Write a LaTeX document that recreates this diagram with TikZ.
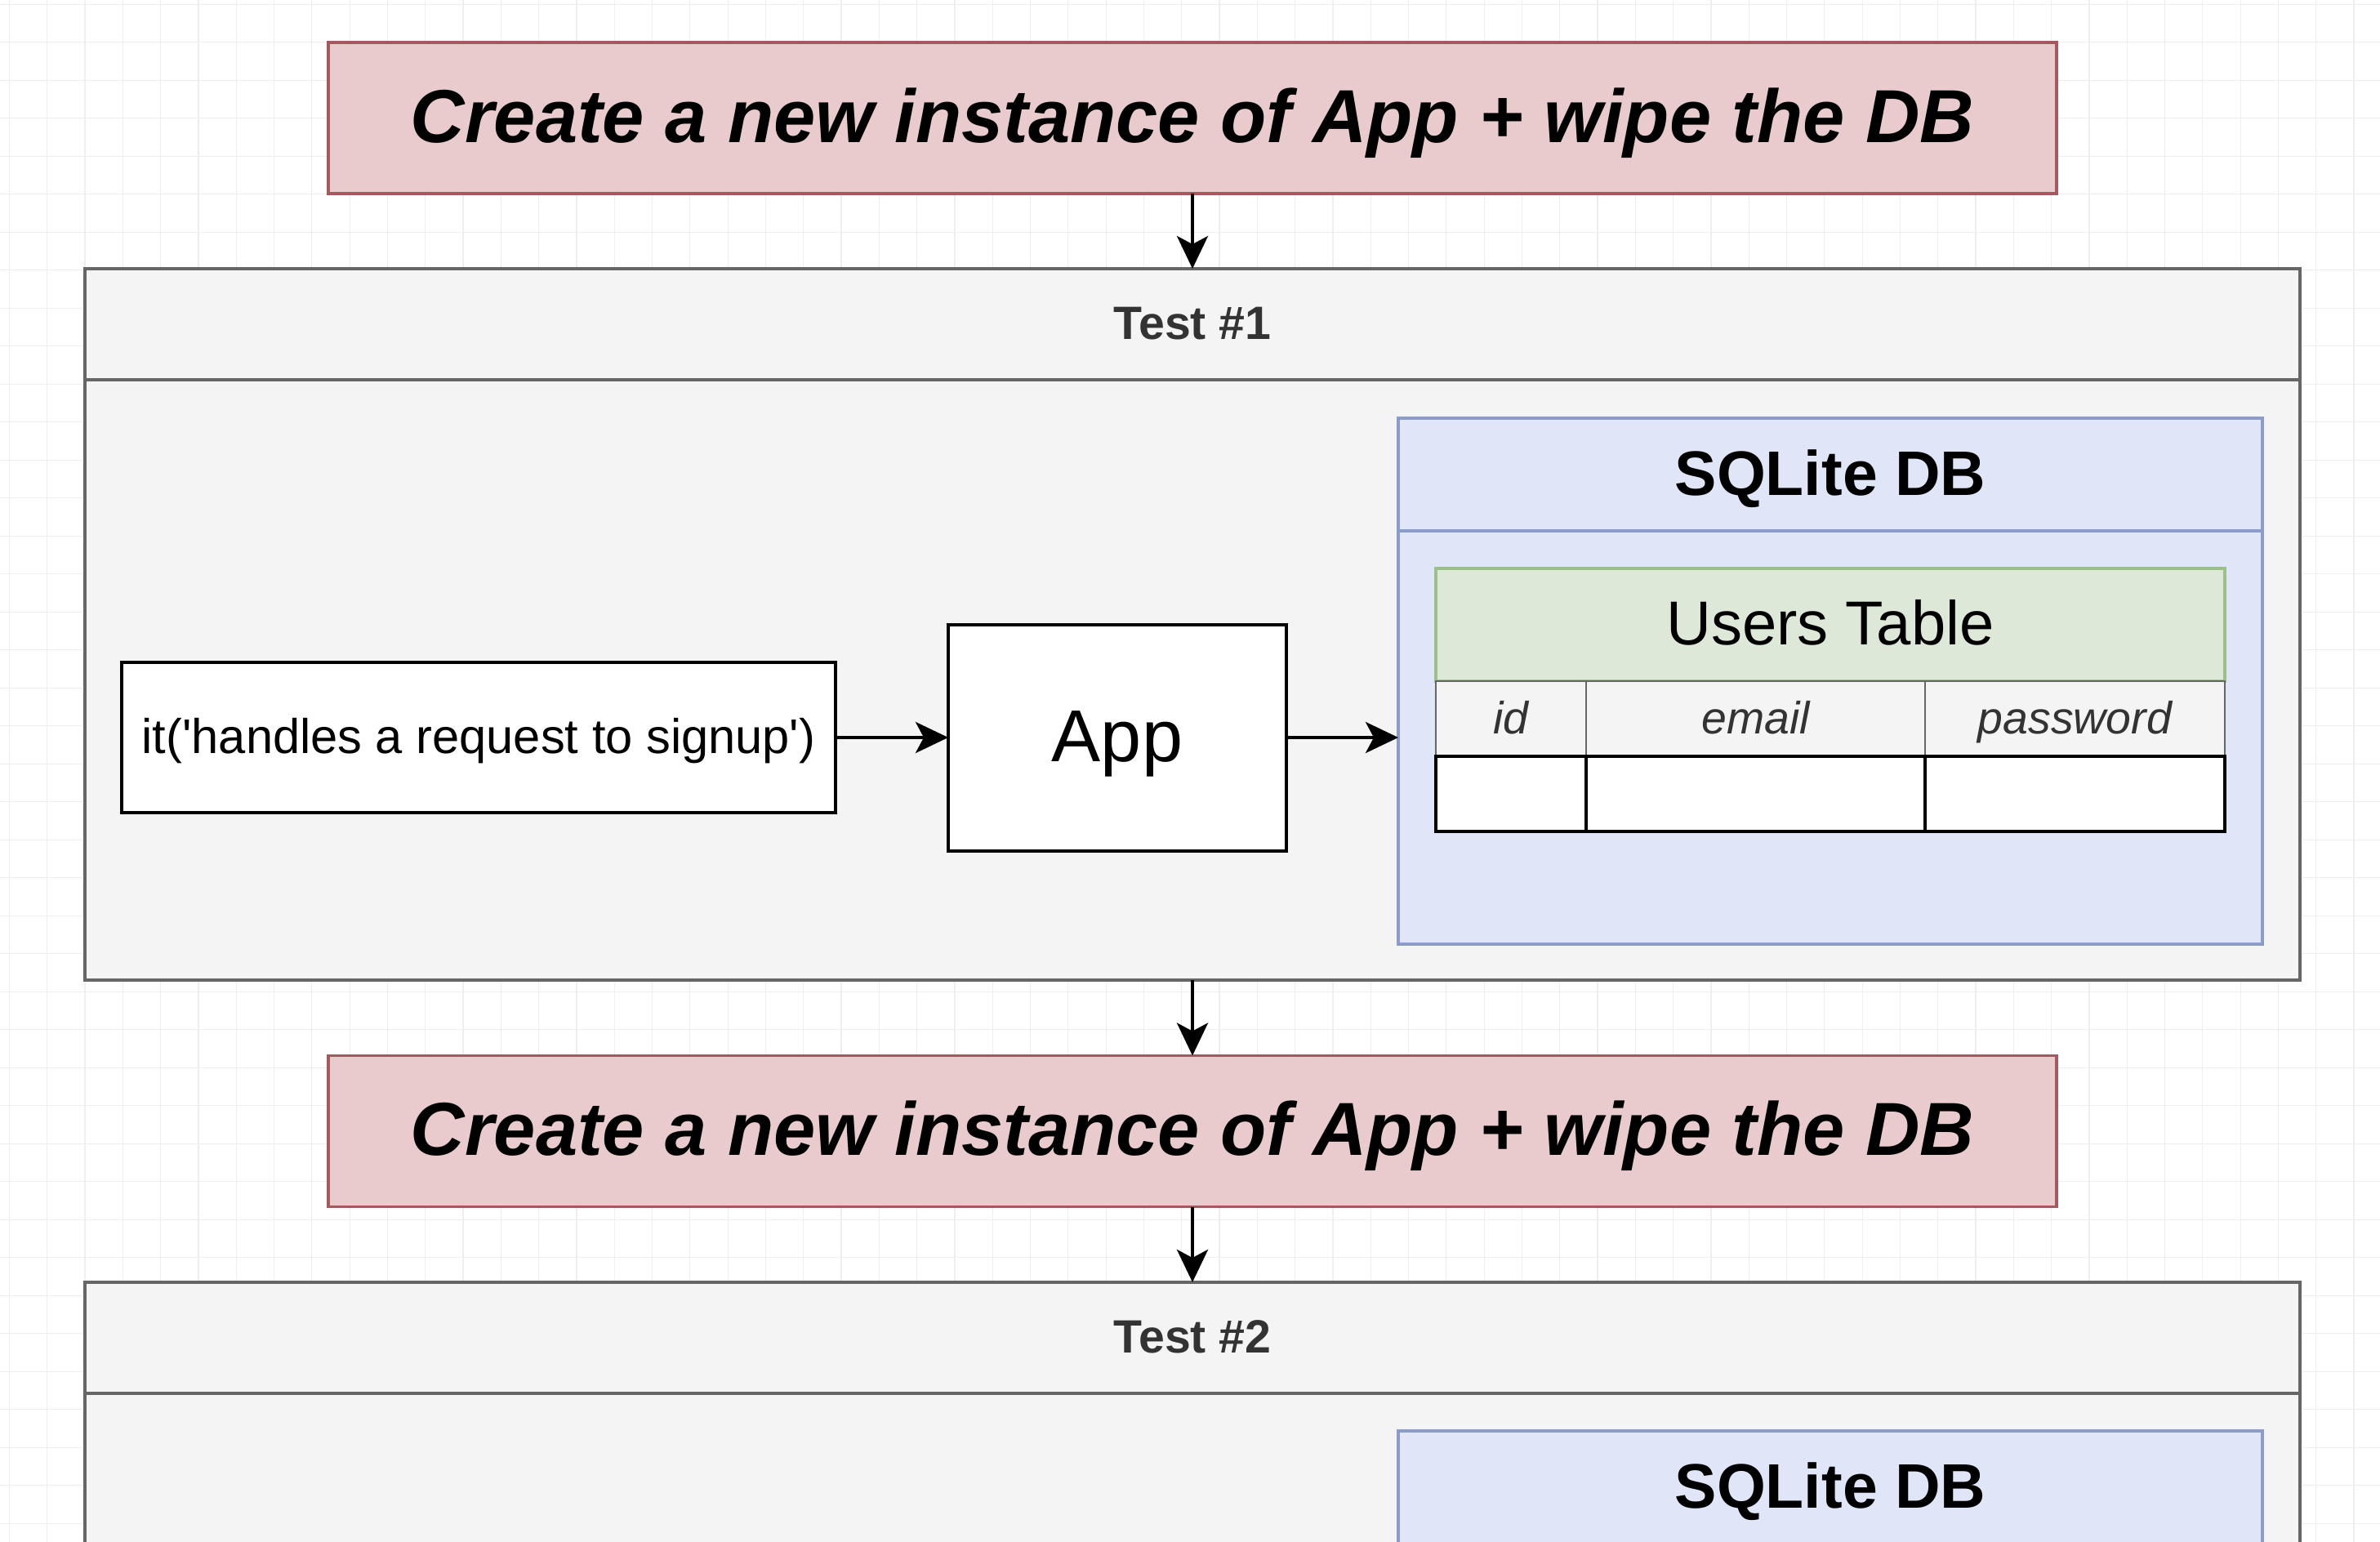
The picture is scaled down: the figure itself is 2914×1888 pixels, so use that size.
\documentclass[tikz,border=0pt]{standalone}
\usepackage{fontspec}
\setmainfont{Liberation Sans}
\usetikzlibrary{arrows.meta,positioning}
\definecolor{wipefill}{HTML}{E9CBCD}
\definecolor{wipeline}{HTML}{A5585E}
\definecolor{testfill}{HTML}{F4F4F4}
\definecolor{testline}{HTML}{666666}
\definecolor{dbfill}{HTML}{E0E6F7}
\definecolor{dbline}{HTML}{8C9CC8}
\definecolor{tblfill}{HTML}{DDE8D8}
\definecolor{tblline}{HTML}{9CC088}
\definecolor{gridgray}{HTML}{EEEEEE}
\definecolor{txtgray}{HTML}{333333}
\tikzset{
  box/.style={draw, inner sep=0pt, outer sep=0pt, anchor=center},
  wipebox/.style={box, fill=wipefill, draw=wipeline, line width=1.6pt,
    minimum width=1058pt, minimum height=92.5pt, text height=34.5pt, text depth=4.6pt,
    font=\fontsize{46}{55}\selectfont\bfseries\itshape},
  testbox/.style={box, fill=testfill, draw=testline, line width=1.6pt, minimum width=1356pt},
  testhead/.style={testbox, minimum height=68pt, text=txtgray, text height=21.5pt, text depth=2.9pt,
    font=\fontsize{28.6}{34}\selectfont\bfseries},
  dbbox/.style={box, fill=dbfill, draw=dbline, line width=1.6pt, minimum width=529pt},
  dbhead/.style={dbbox, minimum height=69pt, text height=28.9pt, text depth=3.9pt,
    font=\fontsize{38.5}{46}\selectfont\bfseries},
  colhead/.style={box, fill=testfill, draw=testline, line width=1.2pt, minimum height=46pt,
    text=txtgray, text height=20.8pt, text depth=2.8pt,
    font=\fontsize{27.7}{33}\selectfont\itshape},
  cell/.style={box, fill=white, draw=black, line width=1.8pt, minimum height=46pt},
  flow/.style={line width=2pt, -{Stealth[length=20pt,width=19pt,inset=5pt]}},
  gridline/.style={gridgray, line width=0.6pt}
}
\begin{document}
\begin{tikzpicture}[x=0.5pt,y=-0.5pt]
  \useasboundingbox (0,0) rectangle (2914,1888);
  % page background and grid
  \fill[white] (0,0) rectangle (2914,1888);
  \foreach \gx in {0,...,62}
    \draw[gridline] ({11.4+46.3*\gx},0) -- ++(0,1888);
  \foreach \gy in {0,...,40}
    \draw[gridline] (0,{5.2+46.5*\gy}) -- ++(2914,0);
  % first reset
  \node[wipebox] (wipeA) at (1460,144.5) {Create a new instance of App + wipe the DB};
  % test one
  \node[testbox, minimum height=435.5pt] (test1) at (1460,764.5) {};
  \node[testhead] (test1head) at (1460,397) {Test \#1};
  \node[box, fill=white, line width=2pt, minimum width=437pt, minimum height=92pt,
    text height=22.4pt, text depth=3pt,
    font=\fontsize{29.8}{36}\selectfont] (spec) at (586,903)
    {it(\textquotesingle handles a request to signup\textquotesingle)};
  \node[box, fill=white, line width=2pt, minimum width=207pt, minimum height=138.5pt,
    text height=33.8pt, text depth=4.5pt,
    font=\fontsize{45}{54}\selectfont] (app) at (1368,903) {App};
  % database of test one
  \node[dbbox, minimum height=322pt] (db1) at (2241,834) {};
  \node[dbhead] (db1head) at (2241,581) {SQLite DB};
  \node[box, fill=tblfill, draw=tblline, line width=1.6pt, minimum width=483pt, minimum height=69pt,
    text height=28.5pt, text depth=3.8pt,
    font=\fontsize{38}{46}\selectfont] (users) at (2241,765) {Users Table};
  \node[colhead, minimum width=92pt] (colid) at (1850,880) {id};
  \node[colhead, minimum width=207.5pt] (colemail) at (2149.5,880) {email};
  \node[colhead, minimum width=183.5pt] (colpass) at (2540.5,880) {password};
  \node[cell, minimum width=92pt] (rowid) at (1850,972) {};
  \node[cell, minimum width=207.5pt] (rowemail) at (2149.5,972) {};
  \node[cell, minimum width=183.5pt] (rowpass) at (2540.5,972) {};
  % second reset
  \node[wipebox] (wipeB) at (1460,1385) {Create a new instance of App + wipe the DB};
  % test two
  \node[testbox, minimum height=400pt] (test2) at (1460,1970) {};
  \node[testhead] (test2head) at (1460,1638) {Test \#2};
  \node[dbbox, minimum height=300pt] (db2) at (2241,2052) {};
  \node[dbhead] (db2head) at (2241,1821) {SQLite DB};
  % arrows
  \draw[flow] (wipeA) -- (test1head);
  \draw[flow] (spec) -- (app);
  \draw[flow] (app) -- (app -| db1.west);
  \draw[flow] (test1.south) -- (wipeB);
  \draw[flow] (wipeB) -- (test2head);
\end{tikzpicture}
\end{document}
